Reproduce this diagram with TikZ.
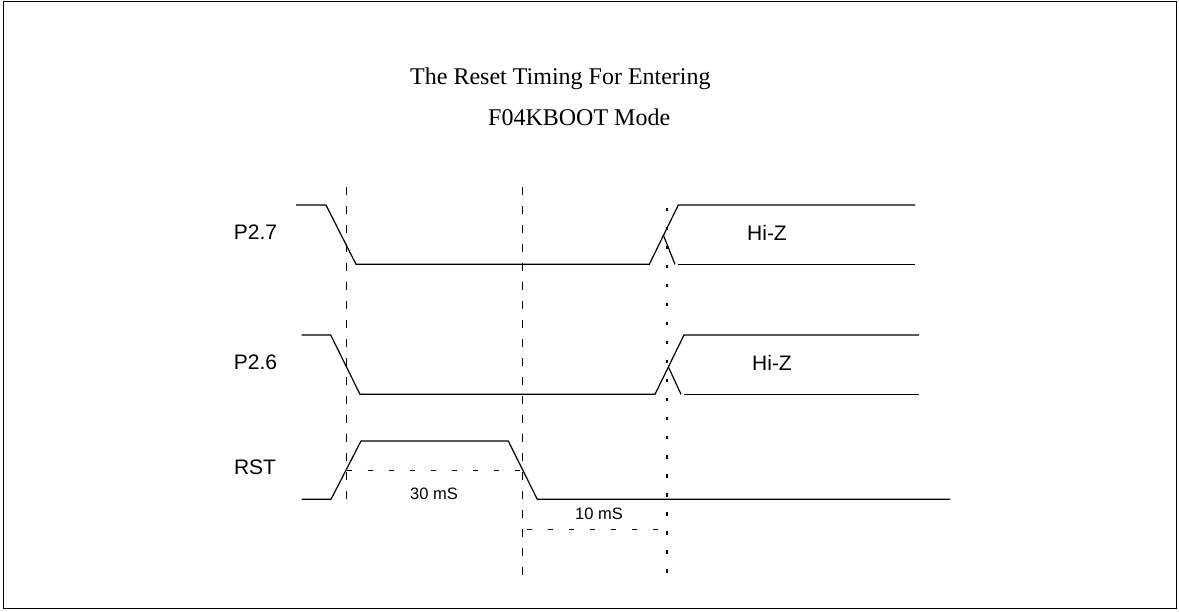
\documentclass[tikz,border=0pt]{standalone}
\usepackage{fontspec}
\setmainfont{Liberation Serif}
\newfontfamily\arialf{Liberation Sans}
\begin{document}
\begin{tikzpicture}[x=1pt,y=-1pt,
  wave/.style={line width=1.2pt,line join=miter},
  vdash/.style={line width=1.1pt,dash pattern=on 8pt off 11pt},
  vdot/.style={line width=1.7pt,dash pattern=on 3.5pt off 15.5pt},
  hdash/.style={line width=1pt,dash pattern=on 5pt off 16pt},
  siglabel/.style={font=\arialf\fontsize{21}{25}\selectfont,inner sep=0pt},
  timelabel/.style={font=\arialf\fontsize{16.5}{20}\selectfont,inner sep=0pt},
  titlelabel/.style={font=\fontsize{24}{28}\selectfont,inner sep=0pt,anchor=west}]
\useasboundingbox (0,0) rectangle (1179,612);
\draw[line width=1.8pt] (3.5,1.5) rectangle (1176.5,608.5);
% title
\node[titlelabel] (t1) at (410,79) {The Reset Timing For Entering};
\node[titlelabel] (t2) at (488,117) {F04KBOOT Mode};
% signal labels
\node[siglabel] (l27) at (255.5,232) {P2.7};
\node[siglabel] (l26) at (255.5,362) {P2.6};
\node[siglabel] (lrst) at (255,467) {RST};
\node[siglabel] (hz1) at (767,233) {Hi-Z};
\node[siglabel] (hz2) at (772,363) {Hi-Z};
\node[timelabel] (d30) at (434,494) {30 mS};
\node[timelabel] (d10) at (599,514) {10 mS};
% vertical reference lines
\draw[vdash] (346.7,187) -- (346.7,503);
\draw[vdash] (522.3,187) -- (522.3,577);
\draw[vdot] (666.7,208) -- (666.7,580);
% P2.7
\draw[wave] (296,205) -- (326,205) -- (356,264.3) -- (649.3,264.3) -- (678.3,205) -- (915,205);
\draw[wave] (663.3,235) -- (675,264.3);
\draw[wave] (678.3,264.3) -- (915,264.3);
% P2.6
\draw[wave] (301.7,335) -- (330.7,335) -- (360,394.3) -- (655,394.3) -- (684,335) -- (919,335);
\draw[wave] (668.3,366.7) -- (681,394.3);
\draw[wave] (684,394.3) -- (919,394.3);
% RST
\draw[wave] (301.7,499.3) -- (331,499.3) -- (361,441) -- (508.3,441) -- (537.3,499.3) -- (950,499.3);
% time measures
\draw[hdash] (346.7,470) -- (522.3,470);
\draw[hdash] (527,529) -- (666.7,529);
\end{tikzpicture}
\end{document}
